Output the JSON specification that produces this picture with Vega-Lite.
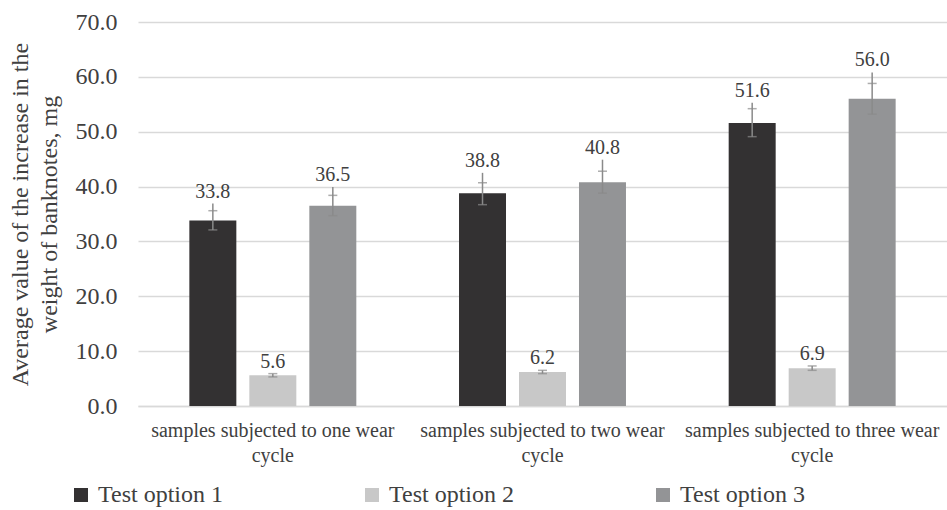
{
  "$schema": "https://vega.github.io/schema/vega-lite/v6.json",
  "autosize": {"type": "none"},
  "padding": {"left": 138, "top": 22, "right": 0, "bottom": 104},
  "width": 809,
  "height": 384,
  "background": "white",
  "config": {
    "view": {"stroke": null},
    "font": "Liberation Serif",
    "text": {"font": "Liberation Serif"},
    "axis": {"labelFont": "Liberation Serif", "titleFont": "Liberation Serif", "labelColor": "#404040", "titleColor": "#404040", "titleFontWeight": "normal"},
    "legend": {"labelFont": "Liberation Serif"}
  },
  "data": {
    "values": [
      {"group": "samples subjected to one wear cycle", "option": "Test option 1", "v": 33.8, "lo": 32.1, "capHi": 35.6, "hi": 36.9},
      {"group": "samples subjected to one wear cycle", "option": "Test option 2", "v": 5.6, "lo": 5.3, "capHi": 5.9, "hi": 5.9},
      {"group": "samples subjected to one wear cycle", "option": "Test option 3", "v": 36.5, "lo": 34.7, "capHi": 38.4, "hi": 39.9},
      {"group": "samples subjected to two wear cycle", "option": "Test option 1", "v": 38.8, "lo": 36.7, "capHi": 40.7, "hi": 42.5},
      {"group": "samples subjected to two wear cycle", "option": "Test option 2", "v": 6.2, "lo": 5.9, "capHi": 6.5, "hi": 6.5},
      {"group": "samples subjected to two wear cycle", "option": "Test option 3", "v": 40.8, "lo": 38.8, "capHi": 42.8, "hi": 44.9},
      {"group": "samples subjected to three wear cycle", "option": "Test option 1", "v": 51.6, "lo": 49.1, "capHi": 54.2, "hi": 55.3},
      {"group": "samples subjected to three wear cycle", "option": "Test option 2", "v": 6.9, "lo": 6.5, "capHi": 7.3, "hi": 7.3},
      {"group": "samples subjected to three wear cycle", "option": "Test option 3", "v": 56.0, "lo": 53.2, "capHi": 58.8, "hi": 60.8}
    ]
  },
  "encoding": {
    "x": {
      "field": "group", "type": "nominal", "sort": null,
      "scale": {"paddingInner": 0, "paddingOuter": 0},
      "axis": {
        "title": null, "labelAngle": 0, "ticks": false, "domainColor": "#d9d9d9", "domainWidth": 1.5,
        "labelFont": "Liberation Serif",
        "labelFontSize": 20, "labelLineHeight": 25, "labelPadding": 14, "labelLimit": 400,
        "labelOverlap": false, "labelBound": false,
        "labelExpr": "split(replace(datum.label, ' cycle', '|cycle'), '|')"
      }
    },
    "xOffset": {
      "field": "option", "type": "nominal",
      "scale": {"paddingInner": 0.2167, "paddingOuter": 0.856}
    }
  },
  "layer": [
    {
      "mark": {"type": "bar"},
      "encoding": {
        "y": {
          "field": "v", "type": "quantitative",
          "scale": {"domain": [0, 70]},
          "axis": {
            "title": ["Average value of the increase in the", "weight of banknotes, mg"],
            "titleFont": "Liberation Serif", "labelFont": "Liberation Serif",
            "titleFontSize": 24, "titleLineHeight": 29, "titlePadding": 14,
            "labelFontSize": 24, "labelPadding": 21, "format": ".1f",
            "values": [0, 10, 20, 30, 40, 50, 60, 70],
            "ticks": false, "domain": false, "gridColor": "#d9d9d9", "gridWidth": 1.5
          }
        },
        "color": {
          "field": "option", "type": "nominal",
          "scale": {"domain": ["Test option 1", "Test option 2", "Test option 3"], "range": ["#333132", "#c8c8c8", "#939496"]},
          "legend": {
            "title": null, "orient": "none", "direction": "horizontal",
            "legendX": -69, "legendY": 461,
            "symbolType": "square", "symbolSize": 196, "symbolStrokeWidth": 0,
            "labelFont": "Liberation Serif",
            "labelFontSize": 24, "labelColor": "#404040", "labelOffset": 5, "labelLimit": 300,
            "columnPadding": 137
          }
        }
      }
    },
    {
      "mark": {"type": "rule", "color": "#8a8a8a", "strokeWidth": 1.5},
      "encoding": {
        "y": {"field": "lo", "type": "quantitative"},
        "y2": {"field": "hi"}
      }
    },
    {
      "mark": {"type": "tick", "orient": "horizontal", "size": 9, "thickness": 1.5, "color": "#8a8a8a"},
      "encoding": {"y": {"field": "lo", "type": "quantitative"}}
    },
    {
      "mark": {"type": "tick", "orient": "horizontal", "size": 9, "thickness": 1.5, "color": "#8a8a8a"},
      "encoding": {"y": {"field": "capHi", "type": "quantitative"}}
    },
    {
      "mark": {"type": "text", "font": "Liberation Serif", "fontSize": 20, "color": "#404040", "baseline": "alphabetic", "dy": -6},
      "encoding": {
        "y": {"field": "hi", "type": "quantitative"},
        "text": {"field": "v", "type": "quantitative", "format": ".1f"}
      }
    }
  ]
}
